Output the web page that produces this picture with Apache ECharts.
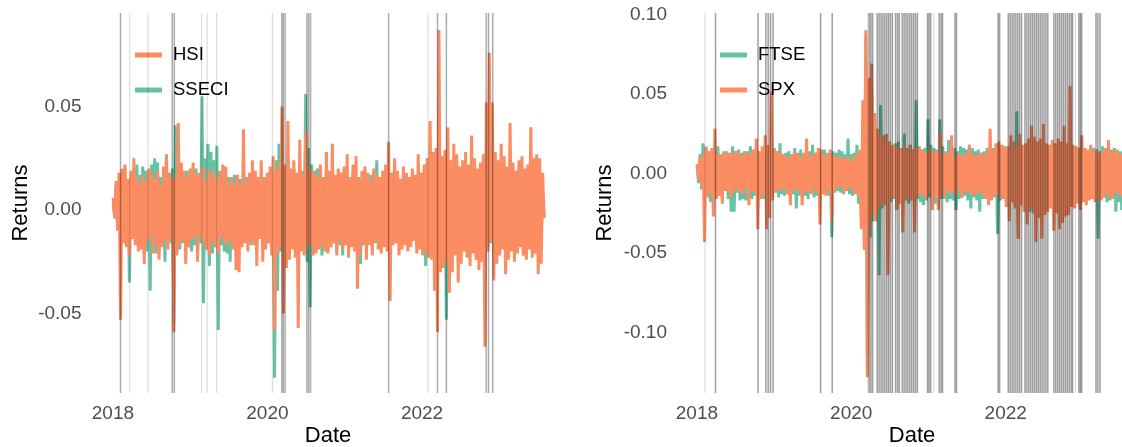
<!DOCTYPE html>
<html>
<head>
<meta charset="utf-8">
<title>Daily index returns</title>
<script src="https://cdn.jsdelivr.net/npm/echarts@6/dist/echarts.min.js"></script>
<style>
  html, body { margin: 0; padding: 0; background: #fff; }
  #chart { width: 1122px; height: 447px; }
</style>
</head>
<body>
<div id="chart"></div>
<script>
// Weekly sampled daily log returns, first observation on 2018-01-02
const seriesStart = '2018-01-02';
const stepDays = 7;

const hsi = [
  .006, -.004, .014, -.010, .018, -.053, .020, -.016, .022, -.018,
  .015, -.022, .019, -.014, .025, -.017, .016, -.020, .013, -.019,
  .017, -.026, .014, -.016, .020, -.013, .018, -.021, .015, -.017,
  .019, -.024, .012, -.018, .021, -.015, .026, -.019, .016, -.014,
  .018, -.059, .015, -.022, .042, -.017, .023, -.015, .019, -.026,
  .016, -.018, .020, -.014, .023, -.013, .017, -.025, .018, -.012,
  .021, -.016, .014, -.019, .020, -.022, .017, -.015, .019, -.018,
  .015, -.021, .018, -.013, .022, -.016, .021, -.017, .013, -.014,
  .016, -.019, .013, -.029, .017, -.030, .012, -.018, .039, -.016,
  .014, -.020, .018, -.015, .024, -.017, .019, -.027, .016, -.014,
  .024, -.025, .015, -.019, .018, -.016, .021, -.022, .026, -.058,
  .019, -.021, .023, -.018, .050, -.050, .022, -.028, .043, -.024,
  .020, -.019, .024, -.023, .018, -.057, .034, -.020, .017, -.022,
  .038, -.018, .021, -.016, .019, -.022, .018, -.021, .016, -.019,
  .022, -.017, .015, -.020, .028, -.021, .019, -.018, .032, -.016,
  .017, -.022, .020, -.015, .018, -.019, .021, -.017, .027, -.023,
  .016, -.018, .022, -.020, .026, -.038, .015, -.021, .019, -.016,
  .021, -.024, .018, -.017, .014, -.022, .020, -.015, .017, -.019,
  .016, -.021, .019, -.018, .022, -.020, .033, -.044, .018, -.017,
  .025, -.016, .019, -.022, .015, -.019, .021, -.017, .018, -.020,
  .016, -.018, .020, -.015, .017, -.021, .027, -.019, .018, -.022,
  .022, -.020, .025, -.023, .043, -.024, .028, -.039, .030, -.059,
  .087, -.030, .026, -.028, .029, -.025, .040, -.040, .024, -.030,
  .032, -.022, .027, -.035, .021, -.026, .024, -.020, .028, -.023,
  .022, -.027, .036, -.021, .025, -.024, .020, -.029, .023, -.025,
  .027, -.066, .052, -.020, .076, -.015, .052, -.034, .028, -.026,
  .024, -.022, .032, -.019, .026, -.031, .021, -.024, .042, -.020,
  .023, -.025, .019, -.021, .024, -.018, .026, -.022, .020, -.024,
  .022, -.019, .040, -.023, .025, -.021, .027, -.031, .025, -.026,
  .018, -.004
];

const sseci = [
  .004, -.003, .012, -.008, .015, -.012, .018, -.010, .020, -.017,
  .014, -.035, .016, -.012, .020, -.015, .022, -.013, .017, -.014,
  .021, -.016, .019, -.020, .015, -.039, .022, -.018, .025, -.021,
  .023, -.020, .016, -.017, .019, -.025, .027, -.015, .018, -.016,
  .020, -.055, .041, -.021, .017, -.019, .022, -.016, .018, -.015,
  .019, -.018, .016, -.020, .014, -.017, .020, -.022, .015, -.016,
  .055, -.045, .025, -.019, .032, -.027, .028, -.021, .024, -.018,
  .031, -.058, .019, -.017, .015, -.020, .018, -.021, .016, -.025,
  .014, -.016, .017, -.015, .013, -.019, .015, -.014, .018, -.016,
  .016, -.013, .014, -.017, .015, -.014, .012, -.016, .014, -.012,
  .013, -.015, .016, -.012, .014, -.016, .017, -.014, .015, -.081,
  .024, -.039, .032, -.020, .022, -.026, .019, -.021, .025, -.018,
  .017, -.016, .020, -.015, .018, -.022, .016, -.014, .019, -.017,
  .056, -.025, .030, -.047, .022, -.018, .019, -.016, .020, -.015,
  .018, -.022, .016, -.017, .019, -.020, .015, -.018, .017, -.016,
  .014, -.019, .016, -.017, .018, -.022, .016, -.015, .017, -.014,
  .015, -.017, .019, -.016, .014, -.018, .016, -.026, .015, -.017,
  .016, -.015, .014, -.016, .017, -.014, .019, -.016, .024, -.015,
  .015, -.013, .014, -.016, .013, -.012, .015, -.017, .014, -.013,
  .012, -.014, .015, -.012, .013, -.016, .012, -.014, .016, -.013,
  .014, -.012, .016, -.015, .013, -.017, .014, -.013, .015, -.016,
  .017, -.027, .018, -.019, .016, -.021, .020, -.024, .022, -.025,
  .028, -.020, .019, -.023, .021, -.053, .024, -.026, .018, -.022,
  .020, -.019, .017, -.021, .018, -.016, .019, -.018, .016, -.017,
  .015, -.018, .017, -.016, .014, -.017, .016, -.015, .018, -.016,
  .017, -.020, .019, -.018, .021, -.016, .018, -.019, .016, -.017,
  .015, -.016, .017, -.014, .016, -.015, .020, -.016, .014, -.015,
  .016, -.014, .015, -.017, .021, -.016, .018, -.022, .017, -.015,
  .014, -.013, .016, -.015, .013, -.014, .015, -.016, .013, -.012,
  .008, -.003
];

const ftse = [
  .005, -.006, .012, -.010, .019, -.015, .016, -.013, .014, -.018,
  .013, -.016, .015, -.012, .017, -.014, .012, -.015, .014, -.011,
  .013, -.016, .012, -.024, .017, -.024, .014, -.012, .015, -.017,
  .013, -.016, .012, -.017, .014, -.015, .017, -.016, .013, -.014,
  .015, -.018, .012, -.014, .013, -.016, .014, -.012, .015, -.013,
  .012, -.014, .016, -.011, .014, -.015, .019, -.013, .012, -.014,
  .013, -.012, .014, -.015, .012, -.013, .016, -.022, .013, -.014,
  .015, -.013, .012, -.014, .013, -.016, .014, -.012, .018, -.015,
  .013, -.014, .012, -.016, .014, -.013, .015, -.012, .013, -.014,
  .012, -.040, .014, -.012, .013, -.011, .015, -.012, .014, -.013,
  .012, -.011, .022, -.013, .012, -.014, .013, -.012, .018, -.019,
  .014, -.030, .030, -.045, .085, -.115, .040, -.040, .050, -.030,
  .030, -.026, .028, -.064, .043, -.022, .024, -.020, .022, -.025,
  .015, -.018, .017, -.016, .019, -.023, .020, -.018, .016, -.019,
  .025, -.017, .016, -.019, .018, -.017, .015, -.018, .046, -.016,
  .017, -.018, .015, -.020, .016, -.017, .034, -.015, .018, -.017,
  .016, -.019, .015, -.018, .034, -.016, .017, -.015, .014, -.018,
  .021, -.016, .015, -.017, .016, -.023, .014, -.016, .017, -.015,
  .016, -.014, .015, -.017, .018, -.022, .016, -.015, .014, -.017,
  .015, -.024, .013, -.016, .014, -.015, .016, -.017, .015, -.014,
  .016, -.015, .017, -.038, .016, -.017, .015, -.016, .014, -.018,
  .017, -.020, .019, -.017, .018, -.021, .039, -.041, .020, -.018,
  .017, -.022, .018, -.016, .019, -.024, .016, -.020, .018, -.021,
  .016, -.023, .019, -.018, .017, -.022, .015, -.019, .018, -.017,
  .017, -.020, .016, -.019, .018, -.021, .015, -.018, .017, -.016,
  .015, -.019, .018, -.017, .016, -.015, .017, -.018, .014, -.016,
  .016, -.017, .015, -.018, .014, -.016, .017, -.015, .016, -.017,
  .015, -.041, .014, -.016, .017, -.015, .016, -.018, .014, -.017,
  .015, -.016, .016, -.024, .015, -.018, .014, -.023, .013, -.015,
  .012, -.010
];

const spx = [
  .006, -.004, .010, -.008, .012, -.043, .017, -.015, .014, -.012,
  .016, -.027, .028, -.016, .012, -.014, .011, -.019, .013, -.010,
  .014, -.012, .013, -.015, .012, -.011, .014, -.010, .013, -.012,
  .011, -.013, .014, -.009, .012, -.020, .013, -.011, .015, -.012,
  .022, -.035, .014, -.016, .017, -.013, .024, -.035, .018, -.028,
  .051, -.017, .016, -.012, .014, -.010, .013, -.011, .012, -.009,
  .011, -.013, .010, -.020, .012, -.011, .014, -.010, .012, -.012,
  .010, -.020, .013, -.011, .022, -.012, .011, -.013, .012, -.010,
  .013, -.012, .016, -.032, .015, -.013, .011, -.014, .012, -.010,
  .015, -.030, .012, -.011, .010, -.009, .011, -.008, .010, -.012,
  .009, -.010, .011, -.009, .008, -.011, .010, -.013, .012, -.014,
  .015, -.035, .046, -.048, .090, -.128, .060, -.034, .069, -.025,
  .038, -.030, .028, -.022, .025, -.020, .021, -.018, .025, -.064,
  .020, -.016, .018, -.015, .017, -.023, .016, -.019, .015, -.037,
  .018, -.015, .014, -.017, .018, -.016, .015, -.037, .016, -.014,
  .017, -.013, .015, -.014, .013, -.016, .014, -.012, .016, -.023,
  .013, -.015, .014, -.023, .026, -.014, .012, -.016, .013, -.011,
  .014, -.013, .024, -.012, .011, -.014, .013, -.010, .012, -.015,
  .011, -.012, .013, -.011, .018, -.013, .012, -.014, .011, -.013,
  .012, -.011, .013, -.014, .012, -.016, .014, -.020, .028, -.017,
  .015, -.014, .019, -.013, .020, -.016, .018, -.015, .017, -.021,
  .016, -.030, .024, -.018, .020, -.022, .017, -.041, .025, -.020,
  .018, -.024, .019, -.032, .022, -.021, .030, -.025, .023, -.043,
  .020, -.028, .022, -.041, .031, -.026, .019, -.024, .018, -.022,
  .021, -.036, .019, -.025, .022, -.035, .020, -.031, .030, -.027,
  .019, -.026, .055, -.021, .018, -.022, .017, -.019, .016, -.023,
  .024, -.018, .016, -.020, .015, -.017, .018, -.016, .014, -.018,
  .015, -.016, .013, -.017, .014, -.015, .016, -.013, .021, -.015,
  .013, -.016, .015, -.012, .014, -.013, .012, -.014, .013, -.011,
  .010, -.008
];

// Days flagged as turbulent for each market pair
const asiaFlagsMinor = ['2018-03-21', '2018-06-16', '2019-02-24', '2019-03-22', '2019-05-06', '2020-01-25', '2022-01-29'];
const asiaFlags = ['2018-02-06', '2018-10-08', '2018-10-18', '2020-03-09', '2020-03-16', '2020-03-25',
  '2020-07-06', '2020-07-14', '2020-07-23', '2021-07-27', '2022-03-15', '2022-04-26', '2022-10-31', '2022-11-11', '2022-12-01'];
const westFlagsMinor = ['2018-02-08', '2020-03-20', '2021-01-26', '2022-11-27'];
const westFlags = ['2018-03-30', '2018-10-17', '2018-11-23', '2018-12-04', '2018-12-15', '2018-12-27', '2019-08-09', '2019-10-03',
  '2020-03-26', '2020-04-03', '2020-04-11',
  '2020-05-03', '2020-05-12', '2020-05-21', '2020-05-30', '2020-06-08', '2020-06-17', '2020-06-26', '2020-07-05', '2020-07-14',
  '2020-07-29', '2020-08-07', '2020-08-15',
  '2020-08-29', '2020-09-07', '2020-09-16', '2020-09-25', '2020-10-04', '2020-10-13', '2020-10-22', '2020-10-31', '2020-11-09',
  '2020-12-27', '2021-01-03', '2021-01-11', '2021-02-20', '2021-03-01', '2021-03-08', '2021-05-06', '2021-05-13',
  '2021-11-26', '2021-12-03',
  '2022-01-13', '2022-01-22', '2022-01-31', '2022-02-09', '2022-02-18', '2022-02-27', '2022-03-08', '2022-03-17',
  '2022-04-02', '2022-04-11', '2022-04-20', '2022-04-29', '2022-05-08', '2022-05-17', '2022-05-26', '2022-06-04',
  '2022-06-13', '2022-06-22', '2022-07-01', '2022-07-10', '2022-07-19',
  '2022-08-17', '2022-08-26', '2022-09-04', '2022-09-13', '2022-09-22', '2022-10-01', '2022-10-10', '2022-10-19',
  '2022-10-28', '2022-11-06', '2022-11-13',
  '2022-12-13', '2022-12-20', '2022-12-26', '2023-03-04', '2023-03-13', '2023-03-23'];

const yearTicks = ['2018-01-01', '2020-01-01', '2022-01-01'];
const asiaReturnTicks = [-0.05, 0, 0.05];
const westReturnTicks = [-0.10, -0.05, 0, 0.05, 0.10];

const ts = s => { const p = s.split('-').map(Number); return Date.UTC(p[0], p[1] - 1, p[2]); };
const t0 = ts(seriesStart);
const withDates = vals => vals.map((v, i) => [t0 + i * stepDays * 864e5, v]);

const ORANGE = '#FC8D62';
const GREEN = '#66C2A5';
const FONT = '"Liberation Sans", Arial, sans-serif';

function returnLine(name, vals, color, idx) {
  return {
    name, type: 'line', xAxisIndex: idx, yAxisIndex: idx,
    data: withDates(vals), showSymbol: false, symbol: 'none',
    lineStyle: { color, width: 3 }, itemStyle: { color },
    clip: true, z: 2, silent: true
  };
}

function flagLines(dates, idx, alpha, width) {
  return {
    type: 'custom', xAxisIndex: idx, yAxisIndex: idx, z: 5, silent: true, clip: true,
    data: dates.map(d => [ts(d), 0]),
    renderItem(params, api) {
      const x = api.coord([api.value(0), 0])[0];
      const cs = params.coordSys;
      return {
        type: 'line',
        shape: { x1: x, y1: cs.y, x2: x, y2: cs.y + cs.height },
        style: { stroke: 'rgba(0,0,0,' + alpha + ')', lineWidth: width }
      };
    }
  };
}

// Dates are plotted as epoch milliseconds on a numeric axis so the year labels can be pinned
function dateAxis(idx, min, max) {
  return {
    type: 'value', gridIndex: idx, min: ts(min), max: ts(max), scale: true,
    axisLine: { show: false }, axisTick: { show: false }, splitLine: { show: false },
    axisLabel: {
      customValues: yearTicks.map(ts), margin: 11,
      color: '#4d4d4d', fontSize: 19, fontFamily: FONT,
      formatter: v => String(new Date(v).getUTCFullYear())
    }
  };
}

function returnAxis(idx, min, max, ticks) {
  return {
    type: 'value', gridIndex: idx, min, max,
    axisLine: { show: false }, axisTick: { show: false }, splitLine: { show: false },
    axisLabel: {
      customValues: ticks, margin: 9,
      color: '#4d4d4d', fontSize: 19, fontFamily: FONT,
      formatter: v => v.toFixed(2)
    }
  };
}

function legendBox(names, left) {
  return {
    data: names, orient: 'vertical', left, top: 40, itemGap: 15,
    icon: 'rect', itemWidth: 27, itemHeight: 5,
    textStyle: { color: '#000', fontSize: 18.5, fontFamily: FONT, lineHeight: 20, padding: [0, 0, 0, 6] },
    selectedMode: false
  };
}

function title(text, x, y, rotation) {
  return {
    type: 'text', x, y, rotation: rotation || 0, silent: true,
    style: { text, fill: '#000', fontSize: 22, fontFamily: FONT, align: 'center', verticalAlign: 'middle' }
  };
}

const chart = echarts.init(document.getElementById('chart'), null, { renderer: 'canvas' });
chart.setOption({
  animation: false,
  backgroundColor: '#ffffff',
  grid: [
    { left: 90.5, right: 556.5, top: 13, bottom: 54 },
    { left: 676, right: 0, top: 13, bottom: 54 }
  ],
  xAxis: [
    dateAxis(0, '2017-09-17', '2023-11-10'),
    dateAxis(1, '2017-09-24', '2023-07-05')
  ],
  yAxis: [
    returnAxis(0, -0.0884, 0.0952, asiaReturnTicks),
    returnAxis(1, -0.1379, 0.1008, westReturnTicks)
  ],
  legend: [
    legendBox(['HSI', 'SSECI'], 130),
    legendBox(['FTSE', 'SPX'], 715)
  ],
  series: [
    returnLine('SSECI', sseci, GREEN, 0),
    returnLine('HSI', hsi, ORANGE, 0),
    flagLines(asiaFlagsMinor, 0, 0.13, 1.3),
    flagLines(asiaFlags, 0, 0.33, 1.5),
    returnLine('FTSE', ftse, GREEN, 1),
    returnLine('SPX', spx, ORANGE, 1),
    flagLines(westFlagsMinor, 1, 0.13, 1.3),
    flagLines(westFlags, 1, 0.38, 1.5)
  ],
  graphic: [
    title('Returns', 21, 203, Math.PI / 2),
    title('Returns', 605, 203, Math.PI / 2),
    title('Date', 328, 436),
    title('Date', 912, 436)
  ]
});
</script>
</body>
</html>
